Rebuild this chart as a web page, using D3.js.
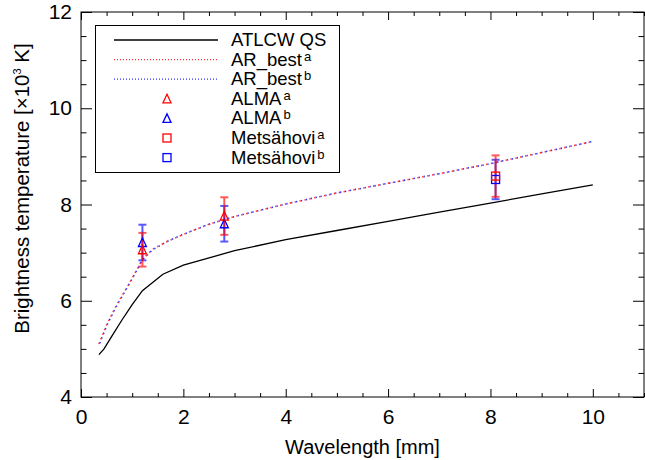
<!DOCTYPE html>
<html>
<head>
<meta charset="utf-8">
<style>
body { margin: 0; background-color: #FFFFFF; }
svg { font-family: "Liberation Sans", Arial, Helvetica, sans-serif; }
</style>
</head>
<body>
<svg width="645" height="460"></svg>
<script src="https://d3js.org/d3.v7.min.js"></script>
<script>

// ---- data ----
var qsWave = [0.35, 0.45, 0.6, 0.8, 1.0, 1.2, 1.6, 2.0, 3.0, 4.0, 5.0, 6.0, 7.0, 8.0, 9.0, 10.0];
var qsTemp = [4.88, 5.0, 5.26, 5.6, 5.92, 6.21, 6.55, 6.74, 7.04, 7.27, 7.46, 7.65, 7.84, 8.03, 8.22, 8.41];

var arWave  = [0.35, 0.5, 0.7, 0.9, 1.1, 1.2, 1.4, 1.7, 2.0, 2.5, 3.0, 4.0, 5.0, 6.0, 7.0, 8.0, 9.0, 10.0];
var arTempA = [5.1, 5.5, 5.92, 6.28, 6.66, 6.86, 7.07, 7.24, 7.38, 7.59, 7.75, 8.01, 8.24, 8.44, 8.64, 8.85, 9.08, 9.31];
var arTempB = [5.07, 5.48, 5.9, 6.27, 6.65, 6.85, 7.06, 7.24, 7.38, 7.59, 7.75, 8.01, 8.24, 8.44, 8.64, 8.85, 9.08, 9.31];

var almaWave = [1.2, 2.8];
var almaA = [7.06, 7.76], almaErrA = [0.35, 0.39];
var almaB = [7.21, 7.60], almaErrB = [0.37, 0.37];

var metsWave = [8.1];
var metsA = [8.59], metsErrA = [0.43];
var metsB = [8.52], metsErrB = [0.41];

var xTicks = [0, 2, 4, 6, 8, 10];
var yTicks = [4, 6, 8, 10, 12];

var red = "#ff0000", blue = "#0000ff";

// ---- layout ----
var svg = d3.select("svg"),
    margin = {top: 12, right: 1, bottom: 63, left: 81},
    width = 563,
    height = 385,
    g = svg.append("g").attr("transform", "translate(" + margin.left + "," + margin.top + ")");

var x = d3.scaleLinear().domain([0, 11]).range([0, width]);
var y = d3.scaleLinear().domain([4, 12]).range([height, 0]);

var xMinor = d3.range(0, 11.01, 0.5).filter(function(v) { return v % 2 !== 0; });
var yMinor = d3.range(4, 12.01, 0.5).filter(function(v) { return v % 2 !== 0; });

function styleAxis(sel) {
  sel.select(".domain").remove();
  sel.selectAll("line").attr("stroke", "#000").attr("stroke-width", 1);
  sel.selectAll("text").attr("fill", "#000").attr("font-size", 21);
}

// major + minor ticks, all four sides, pointing inward
g.append("g").attr("transform", "translate(0," + height + ")")
  .call(d3.axisTop(x).tickValues(xTicks).tickSize(8).tickFormat(""))
  .call(styleAxis);
g.append("g").attr("transform", "translate(0," + height + ")")
  .call(d3.axisTop(x).tickValues(xMinor).tickSize(4).tickFormat(""))
  .call(styleAxis);
g.append("g")
  .call(d3.axisBottom(x).tickValues(xTicks).tickSize(8).tickFormat(""))
  .call(styleAxis);
g.append("g")
  .call(d3.axisBottom(x).tickValues(xMinor).tickSize(4).tickFormat(""))
  .call(styleAxis);
g.append("g")
  .call(d3.axisRight(y).tickValues(yTicks).tickSize(11).tickFormat(""))
  .call(styleAxis);
g.append("g")
  .call(d3.axisRight(y).tickValues(yMinor).tickSize(5.5).tickFormat(""))
  .call(styleAxis);
g.append("g").attr("transform", "translate(" + width + ",0)")
  .call(d3.axisLeft(y).tickValues(yTicks).tickSize(11).tickFormat(""))
  .call(styleAxis);
g.append("g").attr("transform", "translate(" + width + ",0)")
  .call(d3.axisLeft(y).tickValues(yMinor).tickSize(5.5).tickFormat(""))
  .call(styleAxis);

// tick labels
g.append("g").attr("transform", "translate(0," + height + ")")
  .call(d3.axisBottom(x).tickValues(xTicks).tickSize(0).tickPadding(12).tickFormat(d3.format("d")))
  .call(styleAxis);
g.append("g")
  .call(d3.axisLeft(y).tickValues(yTicks).tickSize(0).tickPadding(9).tickFormat(d3.format("d")))
  .call(styleAxis);

// frame
g.append("rect")
  .attr("width", width).attr("height", height)
  .attr("fill", "none").attr("stroke", "#000").attr("stroke-width", 1);

// axis titles
svg.append("text")
  .attr("x", margin.left + x(5.5)).attr("y", 454)
  .attr("text-anchor", "middle").attr("font-size", 20)
  .text("Wavelength [mm]");

var yt = svg.append("text")
  .attr("transform", "translate(29," + (margin.top + height / 2 - 16) + ") rotate(-90)")
  .attr("text-anchor", "middle").attr("font-size", 20.5);
yt.append("tspan").text("Brightness temperature [\u00d710");
yt.append("tspan").attr("font-size", 11).attr("dy", -8).text("3");
yt.append("tspan").attr("dy", 8).text(" K]");

// ---- curves ----
function pts(xs, ys) { return xs.map(function(v, i) { return [v, ys[i]]; }); }
var line = d3.line().x(function(d) { return x(d[0]); }).y(function(d) { return y(d[1]); });

g.append("path").datum(pts(qsWave, qsTemp))
  .attr("d", line).attr("fill", "none").attr("stroke", "#000").attr("stroke-width", 1.3);
g.append("path").datum(pts(arWave, arTempA))
  .attr("d", line).attr("fill", "none").attr("stroke", red).attr("stroke-width", 1.6)
  .attr("stroke-dasharray", "1.3,3.7").attr("opacity", 0.8);
g.append("path").datum(pts(arWave, arTempB))
  .attr("d", line).attr("fill", "none").attr("stroke", blue).attr("stroke-width", 1.6)
  .attr("stroke-dasharray", "1.3,3.7").attr("stroke-dashoffset", 2.5).attr("opacity", 0.8);

// ---- observations with error bars ----
function errorBars(xs, vals, errs, color) {
  var eg = g.append("g").attr("stroke", color).attr("stroke-width", 2).attr("opacity", 0.65);
  xs.forEach(function(xv, i) {
    var cx = x(xv), lo = y(vals[i] - errs[i]), hi = y(vals[i] + errs[i]);
    eg.append("line").attr("x1", cx).attr("x2", cx).attr("y1", lo).attr("y2", hi);
    eg.append("line").attr("x1", cx - 4).attr("x2", cx + 4).attr("y1", lo).attr("y2", lo);
    eg.append("line").attr("x1", cx - 4).attr("x2", cx + 4).attr("y1", hi).attr("y2", hi);
  });
}
function triangle(sel, cx, cy, color) {
  sel.append("path")
    .attr("d", "M" + (cx - 4) + "," + (cy + 4) + "L" + cx + "," + (cy - 4.5) + "L" + (cx + 4) + "," + (cy + 4) + "Z")
    .attr("fill", "none").attr("stroke", color).attr("stroke-width", 1.3);
}
function square(sel, cx, cy, color) {
  sel.append("rect").attr("x", cx - 4).attr("y", cy - 4).attr("width", 8).attr("height", 8)
    .attr("fill", "none").attr("stroke", color).attr("stroke-width", 1.3);
}

errorBars(almaWave, almaB, almaErrB, blue);
errorBars(almaWave, almaA, almaErrA, red);
errorBars(metsWave, metsB, metsErrB, blue);
errorBars(metsWave, metsA, metsErrA, red);

almaWave.forEach(function(w, i) { triangle(g, x(w), y(almaB[i]), blue); });
almaWave.forEach(function(w, i) { triangle(g, x(w), y(almaA[i]), red); });
metsWave.forEach(function(w, i) { square(g, x(w), y(metsB[i]), blue); });
metsWave.forEach(function(w, i) { square(g, x(w), y(metsA[i]), red); });

// ---- legend ----
var legendItems = [
  {name: "ATLCW QS", sup: "", kind: "line", color: "#000"},
  {name: "AR_best", sup: "a", kind: "dot", color: red},
  {name: "AR_best", sup: "b", kind: "dot", color: blue},
  {name: "ALMA", sup: "a", kind: "tri", color: red},
  {name: "ALMA", sup: "b", kind: "tri", color: blue},
  {name: "Mets\u00e4hovi", sup: "a", kind: "sq", color: red},
  {name: "Mets\u00e4hovi", sup: "b", kind: "sq", color: blue}
];

var lg = svg.append("g");
lg.append("rect").attr("x", 95.5).attr("y", 25.5).attr("width", 244).attr("height", 147)
  .attr("fill", "#fff").attr("stroke", "#000").attr("stroke-width", 1);

var rows = lg.selectAll("g.row").data(legendItems).enter().append("g")
  .attr("transform", function(d, i) { return "translate(0," + (40 + i * 19.6) + ")"; });

rows.each(function(d) {
  var r = d3.select(this);
  if (d.kind === "line") {
    r.append("line").attr("x1", 114).attr("x2", 218).attr("stroke", d.color).attr("stroke-width", 1.3);
  } else if (d.kind === "dot") {
    r.append("line").attr("x1", 114).attr("x2", 218).attr("stroke", d.color).attr("stroke-width", 1.2)
      .attr("stroke-dasharray", "1,2").attr("opacity", 0.8);
  } else if (d.kind === "tri") {
    triangle(r, 167, 0, d.color);
  } else {
    square(r, 167, 0, d.color);
  }
  var t = r.append("text").attr("x", 231).attr("y", 6).attr("font-size", 18.5).attr("fill", "#000");
  t.append("tspan").text(d.name);
  if (d.sup) t.append("tspan").attr("dx", 2).attr("dy", -5).attr("font-size", 13).text(d.sup);
});

</script>
</body>
</html>
